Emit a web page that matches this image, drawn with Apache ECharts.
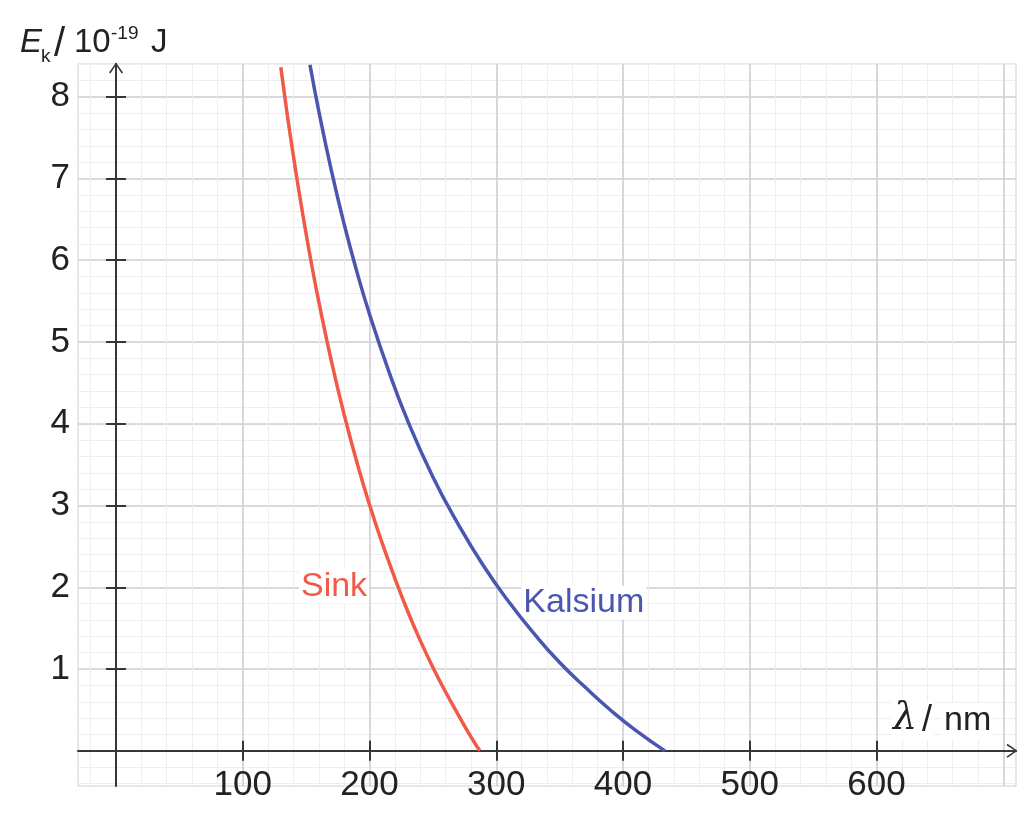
<!DOCTYPE html>
<html>
<head>
<meta charset="utf-8">
<script src="https://cdn.jsdelivr.net/npm/echarts@6/dist/echarts.min.js"></script>
<style>
html, body { margin: 0; padding: 0; background: #fff; }
#chart { width: 1029px; height: 816px; }
</style>
</head>
<body>
<div id="chart"></div>
<script>
// tick labels / grid lines
var xTickLabels = [100, 200, 300, 400, 500, 600];
var yTickLabels = [1, 2, 3, 4, 5, 6, 7, 8];
var xMajorLines = [100, 200, 300, 400, 500, 600, 700];
var yMajorLines = [1, 2, 3, 4, 5, 6, 7, 8];

// kinetic energy (10^-19 J) against wavelength (nm)
var sinkLambda = [130, 135, 140, 145, 150, 155, 160, 170, 180, 190, 200, 210, 220, 230, 240, 250, 260, 270, 280, 287];
var sinkEk = [8.36, 7.79, 7.27, 6.78, 6.32, 5.89, 5.49, 4.76, 4.11, 3.53, 3.01, 2.54, 2.11, 1.71, 1.35, 1.02, 0.72, 0.44, 0.17, 0];
var kalsiumLambda = [153, 160, 170, 180, 190, 200, 215, 230, 250, 270, 290, 310, 330, 350, 370, 390, 410, 433];
var kalsiumEk = [8.39, 7.82, 7.09, 6.44, 5.86, 5.34, 4.65, 4.04, 3.35, 2.77, 2.26, 1.82, 1.43, 1.08, 0.78, 0.50, 0.25, 0];

var sinkLabelPos = [172, 2.01];
var kalsiumLabelPos = [369, 1.81];

var xMinorLines = [];
for (var v = -20; v <= 700; v += 20) { if (v !== 0) xMinorLines.push(v); }
var yMinorLines = [];
for (var i = -2; i <= 42; i++) { if (i !== 0) yMinorLines.push(Math.round(i * 20) / 100); }

function pairs(xs, ys) {
    var out = [];
    for (var k = 0; k < xs.length; k++) out.push([xs[k], ys[k]]);
    return out;
}

var FONT = 'Liberation Sans';
var AXIS_COLOR = '#363636';
var MAJOR_COLOR = '#cfcfd6';
var MINOR_COLOR = '#ededf2';
var RED = '#f05a46';
var BLUE = '#4a56b0';
var chevron = 'path://M0,10 L7,0 L14,10 L12.6,11 L7,2.4 L1.4,11 Z';

var XMIN = -30, XMAX = 710, YMIN = -0.43, YMAX = 8.4;

function gridAxis(values, color, width, min, max) {
    return {
        type: 'value', min: min, max: max, z: 0,
        axisLine: { show: false, onZero: false },
        axisTick: { show: false, customValues: values },
        axisLabel: { show: false },
        splitLine: { show: true, lineStyle: { color: color, width: width } }
    };
}

var xAxes = [
    {
        type: 'value', min: XMIN, max: XMAX, position: 'bottom', z: 3,
        axisLine: {
            onZero: true, onZeroAxisIndex: 0,
            lineStyle: { color: AXIS_COLOR, width: 2 },
            symbol: ['none', chevron], symbolSize: [14, 11], symbolOffset: [0, -4]
        },
        axisTick: { customValues: xTickLabels, length: 10, lineStyle: { color: AXIS_COLOR, width: 2 } },
        axisLabel: { customValues: xTickLabels, fontSize: 35, fontFamily: FONT, color: '#222', margin: -18 },
        splitLine: { show: false }
    },
    {
        type: 'value', min: XMIN, max: XMAX, position: 'top', z: 3,
        axisLine: { show: false, onZero: true, onZeroAxisIndex: 0 },
        axisTick: { customValues: xTickLabels, length: 10, lineStyle: { color: AXIS_COLOR, width: 2 } },
        axisLabel: { show: false },
        splitLine: { show: false }
    },
    gridAxis(xMinorLines, MINOR_COLOR, 1, XMIN, XMAX),
    gridAxis(xMajorLines, MAJOR_COLOR, 1.6, XMIN, XMAX)
];

var yAxes = [
    {
        type: 'value', min: YMIN, max: YMAX, position: 'left', z: 3,
        axisLine: {
            onZero: true, onZeroAxisIndex: 0,
            lineStyle: { color: AXIS_COLOR, width: 2 },
            symbol: ['none', chevron], symbolSize: [14, 11], symbolOffset: [0, -4]
        },
        axisTick: { customValues: yTickLabels, length: 10, lineStyle: { color: AXIS_COLOR, width: 2 } },
        axisLabel: { customValues: yTickLabels, fontSize: 35, fontFamily: FONT, color: '#222', margin: 8 },
        splitLine: { show: false }
    },
    {
        type: 'value', min: YMIN, max: YMAX, position: 'right', z: 3,
        axisLine: { show: false, onZero: true, onZeroAxisIndex: 0 },
        axisTick: { customValues: yTickLabels, length: 10, lineStyle: { color: AXIS_COLOR, width: 2 } },
        axisLabel: { show: false },
        splitLine: { show: false }
    },
    gridAxis(yMinorLines, MINOR_COLOR, 1, YMIN, YMAX),
    gridAxis(yMajorLines, MAJOR_COLOR, 1.6, YMIN, YMAX)
];

function labelMark(text, pos, color) {
    return {
        symbol: 'circle', symbolSize: 1,
        itemStyle: { color: 'rgba(0,0,0,0)' },
        label: {
            show: true, position: 'inside', formatter: text, color: color,
            fontSize: 34, fontFamily: FONT, backgroundColor: '#fff', padding: [0, 2]
        },
        data: [{ coord: pos }]
    };
}

function txt(s, x, y, size, extra) {
    var style = { text: s, x: x, y: y, font: size + 'px "' + FONT + '"', fill: '#222', align: 'left', verticalAlign: 'middle' };
    if (extra) { for (var key in extra) style[key] = extra[key]; }
    return { type: 'text', silent: true, z: 10, style: style };
}

var WHITE = { backgroundColor: '#fff', padding: [1, 2] };
function w(extra) {
    var o = { backgroundColor: '#fff', padding: [1, 2] };
    if (extra) { for (var key in extra) o[key] = extra[key]; }
    return o;
}

var chart = echarts.init(document.getElementById('chart'));
chart.setOption({
    animation: false,
    backgroundColor: '#fff',
    grid: {
        left: 78, right: 13, top: 64, bottom: 30,
        show: true, borderColor: MAJOR_COLOR, borderWidth: 1,
        outerBoundsMode: 'none'
    },
    xAxis: xAxes,
    yAxis: yAxes,
    graphic: [
        txt('E', 20, 43, 33, { font: 'italic 33px "' + FONT + '"' }),
        txt('k', 41, 57, 19),
        txt('/', 54, 45, 40),
        txt('10', 74, 43, 33),
        txt('-19', 111, 34, 19),
        txt('J', 151, 43, 33),
        txt('\u03bb', 891, 719, 38, w({ font: 'italic 38px "DejaVu Serif"' })),
        txt('/', 920, 721, 36, w()),
        txt('nm', 942, 721, 34, w())
    ],
    series: [
        {
            name: 'Sink', type: 'line', smooth: true, showSymbol: false, z: 5,
            data: pairs(sinkLambda, sinkEk),
            lineStyle: { color: RED, width: 3.5 },
            itemStyle: { color: RED },
            markPoint: labelMark('Sink', sinkLabelPos, RED)
        },
        {
            name: 'Kalsium', type: 'line', smooth: true, showSymbol: false, z: 5,
            data: pairs(kalsiumLambda, kalsiumEk),
            lineStyle: { color: BLUE, width: 3.5 },
            itemStyle: { color: BLUE },
            markPoint: labelMark('Kalsium', kalsiumLabelPos, BLUE)
        }
    ]
});
</script>
</body>
</html>
